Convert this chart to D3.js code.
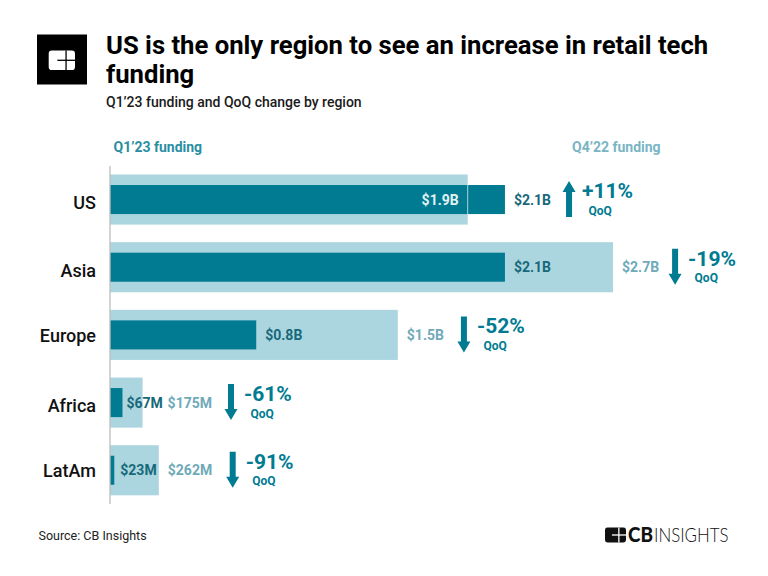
<!DOCTYPE html>
<html>
<head>
<meta charset="utf-8">
<script src="https://cdnjs.cloudflare.com/ajax/libs/d3/7.8.5/d3.min.js"></script>
<style>
  html, body { margin: 0; padding: 0; background: #fff; }
  text { font-family: Roboto, sans-serif; }
</style>
</head>
<body>
<svg id="chart" width="768" height="576"></svg>
<script>
// values, in $B
const regions = ["US", "Asia", "Europe", "Africa", "LatAm"];
const q1Funding = [2.12, 2.12, 0.785, 0.067, 0.023];
const q4Funding = [1.92, 2.7, 1.545, 0.175, 0.262];
const q1Labels = ["$2.1B", "$2.1B", "$0.8B", "$67M", "$23M"];
const q4Labels = ["$1.9B", "$2.7B", "$1.5B", "$175M", "$262M"];
const qoqChange = ["+11%", "-19%", "-52%", "-61%", "-91%"];

const dark = "#007b92", light = "#abd6e0";
const svg = d3.select("#chart");

const x = d3.scaleLinear().domain([0, 2.7]).range([110, 613]);
const y = d3.scaleBand().domain(regions).range([174.5, 495.3]).paddingInner(0.26);

// header
svg.append("rect").attr("x", 37).attr("y", 34.5).attr("width", 50).attr("height", 50).attr("fill", "#000");
drawMark(48.7, 50.6, 26.3, 19.4, "#fff", "#000");

const title = svg.append("text").attr("font-size", 25.67).attr("font-weight", 700).attr("fill", "#000");
title.append("tspan").attr("x", 106).attr("y", 53.5).text("US is the only region to see an increase in retail tech");
title.append("tspan").attr("x", 106).attr("y", 83).text("funding");
svg.append("text").attr("x", 106).attr("y", 107).attr("font-size", 14).attr("font-weight", 500)
  .attr("fill", "#1a1a1a").text("Q1’23 funding and QoQ change by region");

// legend
svg.append("text").attr("x", 113.5).attr("y", 151.5).attr("font-size", 14).attr("font-weight", 700)
  .attr("fill", "#2a8ea3").text("Q1’23 funding");
svg.append("text").attr("x", 572).attr("y", 151.5).attr("font-size", 14).attr("font-weight", 700)
  .attr("fill", "#7ab5c3").text("Q4’22 funding");

const rows = regions.map((region, i) => ({
  region, q1: q1Funding[i], q4: q4Funding[i],
  q1Label: q1Labels[i], q4Label: q4Labels[i], change: qoqChange[i]
}));

// bars
svg.append("g").selectAll("rect").data(rows).join("rect")
  .attr("x", x(0)).attr("y", d => y(d.region))
  .attr("width", d => x(d.q4) - x(0)).attr("height", y.bandwidth())
  .attr("fill", light);
svg.append("g").selectAll("rect").data(rows).join("rect")
  .attr("x", x(0)).attr("y", d => y(d.region) + y.bandwidth() * 0.21)
  .attr("width", d => x(d.q1) - x(0)).attr("height", y.bandwidth() * 0.58)
  .attr("fill", dark);

// the Q4 edge shows through where Q1 is the longer bar
svg.append("g").selectAll("line").data(rows.filter(d => d.q1 > d.q4)).join("line")
  .attr("x1", d => x(d.q4)).attr("x2", d => x(d.q4))
  .attr("y1", d => y(d.region) + y.bandwidth() * 0.21)
  .attr("y2", d => y(d.region) + y.bandwidth() * 0.79)
  .attr("stroke", light).attr("stroke-width", 1);

// region axis, the row names are not quite centred on their bars
const nameNudge = { US: 0, Asia: 1, Europe: -2, Africa: 0, LatAm: -2 };
const axis = svg.append("g").attr("transform", `translate(${x(0)},0)`)
  .call(d3.axisLeft(y).tickSize(0).tickPadding(14));
axis.select(".domain").remove();
axis.selectAll("text").attr("font-size", 18).attr("font-weight", 500).attr("fill", "#111")
  .style("font-family", "Roboto, sans-serif").attr("dy", "0.5em")
  .attr("y", d => nameNudge[d]);
svg.append("line").attr("x1", x(0)).attr("x2", x(0)).attr("y1", 166).attr("y2", 504)
  .attr("stroke", "#bdbdbd").attr("stroke-width", 1.3);

// value labels and QoQ change
const labelDark = "#17697a", labelLight = "#6faab9";
const labelGap = { Africa: 25 };
const q1Gap = { Africa: 4, LatAm: 6 };
const arrowGap = { US: 18, Asia: 16, Europe: 20, LatAm: 20.5 };

rows.forEach(d => {
  const mid = y(d.region) + y.bandwidth() / 2;
  const up = d.q1 > d.q4;
  const baseline = mid + 5;

  let outerEnd;
  const q1Text = svg.append("text").attr("y", baseline).attr("font-size", 14).attr("font-weight", 700)
    .attr("fill", labelDark).text(d.q1Label)
    .attr("x", x(d.q1) + (q1Gap[d.region] || 9));
  if (up) {
    // Q1 is the outer label, Q4 sits inside the bar
    svg.append("text").attr("x", x(d.q4) - 9).attr("y", baseline).attr("text-anchor", "end")
      .attr("font-size", 14).attr("font-weight", 700).attr("fill", "#e4f2f5").text(d.q4Label);
    outerEnd = q1Text.node().getComputedTextLength() + (x(d.q1) + 9);
  } else {
    const xq4 = x(d.q4) + (labelGap[d.region] || 9);
    const t = svg.append("text").attr("x", xq4).attr("y", baseline)
      .attr("font-size", 14).attr("font-weight", 700).attr("fill", labelLight).text(d.q4Label);
    outerEnd = xq4 + t.node().getComputedTextLength();
  }

  const ax = outerEnd + (arrowGap[d.region] || 19);
  const top = mid - 18.5, bottom = mid + 17.5;
  const path = d3.path();
  if (up) {
    path.moveTo(ax - 3, bottom); path.lineTo(ax - 3, top + 11); path.lineTo(ax - 6.5, top + 11);
    path.lineTo(ax, top); path.lineTo(ax + 6.5, top + 11); path.lineTo(ax + 3, top + 11);
    path.lineTo(ax + 3, bottom);
  } else {
    path.moveTo(ax - 3, top); path.lineTo(ax - 3, bottom - 11); path.lineTo(ax - 6.5, bottom - 11);
    path.lineTo(ax, bottom); path.lineTo(ax + 6.5, bottom - 11); path.lineTo(ax + 3, bottom - 11);
    path.lineTo(ax + 3, top);
  }
  path.closePath();
  svg.append("path").attr("d", path.toString()).attr("fill", dark);

  svg.append("text").attr("x", ax + 13).attr("y", mid - 1.5).attr("font-size", 21).attr("font-weight", 700)
    .attr("fill", dark).text(d.change);
  svg.append("text").attr("x", ax + 19.5).attr("y", mid + 15).attr("font-size", 12).attr("font-weight", 700)
    .attr("fill", dark).text("QoQ");
});

// footer
svg.append("text").attr("x", 38.5).attr("y", 540).attr("font-size", 12.5).attr("fill", "#222").text("Source: CB Insights");
drawMark(605, 527.5, 21, 15, "#111", "#fff");
svg.append("text").attr("x", 628).attr("y", 542).attr("font-size", 20).attr("font-weight", 900).attr("fill", "#111")
  .attr("textLength", 25).attr("lengthAdjust", "spacingAndGlyphs").style("font-family", "Lato, sans-serif").text("CB");
svg.append("text").attr("x", 654).attr("y", 542).attr("font-size", 20).attr("font-weight", 300).attr("fill", "#111")
  .attr("textLength", 74.5).attr("lengthAdjust", "spacingAndGlyphs").style("font-family", "Lato, sans-serif").text("INSIGHTS");

// the CB card mark: rounded card split by a cross
function drawMark(mx, my, w, h, fill, cut) {
  const cx = mx + w * 0.66, cy = my + h * 0.5;
  svg.append("rect").attr("x", mx).attr("y", my).attr("width", w).attr("height", h).attr("rx", h * 0.16).attr("fill", fill);
  svg.append("line").attr("x1", cx).attr("x2", cx).attr("y1", my).attr("y2", my + h).attr("stroke", cut).attr("stroke-width", 1.3);
  svg.append("line").attr("x1", mx + w * 0.33).attr("x2", mx + w).attr("y1", cy).attr("y2", cy).attr("stroke", cut).attr("stroke-width", 1.3);
}
</script>
</body>
</html>
